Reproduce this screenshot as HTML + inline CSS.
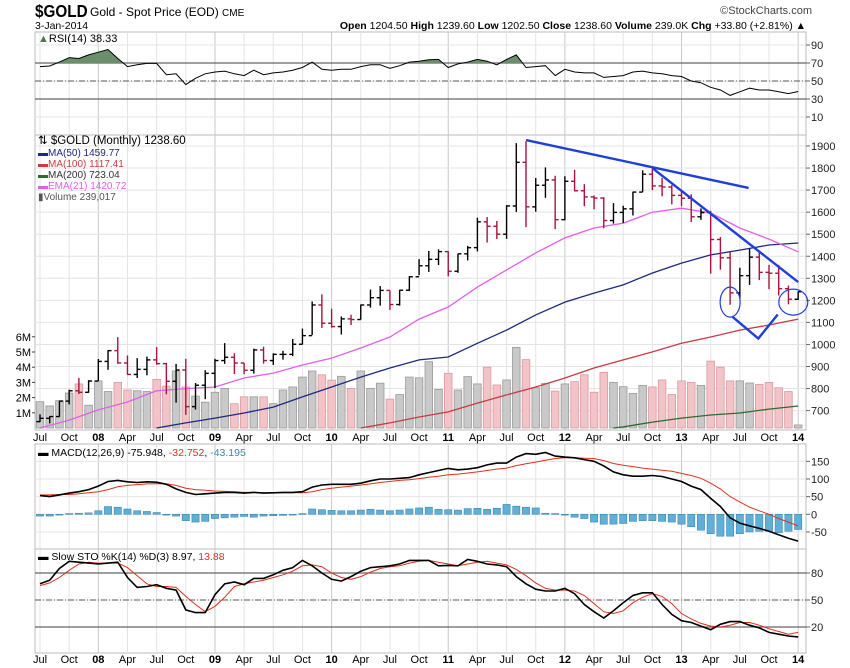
<!DOCTYPE html>
<html><head><meta charset="utf-8"><style>
html,body{margin:0;padding:0;background:#fff;}
svg{display:block;font-family:"Liberation Sans",sans-serif;}
</style></head><body>
<svg id="c" width="850" height="668" viewBox="0 0 850 668" xmlns="http://www.w3.org/2000/svg">
<g>
<text x="35" y="17" font-size="18" font-weight="bold" transform="scale(0.85,1)" transform-origin="35 17">$GOLD</text>
<text x="90" y="16" font-size="12">Gold - Spot Price (EOD) <tspan font-size="10">CME</tspan></text>
<text x="812" y="14" font-size="11" fill="#444" text-anchor="end">©StockCharts.com</text>
<text x="35" y="29" font-size="10.5">3-Jan-2014</text>
<text x="806" y="29" font-size="10.5" text-anchor="end"><tspan font-weight="bold">Open</tspan> 1204.50 <tspan font-weight="bold">High</tspan> 1239.60 <tspan font-weight="bold">Low</tspan> 1202.50 <tspan font-weight="bold">Close</tspan> 1238.60 <tspan font-weight="bold">Volume</tspan> 239.0K <tspan font-weight="bold">Chg</tspan> +33.80 (+2.81%) ▲</text>
</g>
<g id="layer"></g>
</svg>
<script>
// ---- data ----
const months = ["Jul","Aug","Sep","Oct","Nov","Dec"];
const closes = [665,673,743,790,783,834, 923,972,916,864,887,930,913,833,884,718,815,869, 927,942,916,883,975,927,955,955,1001,1040,1179,1096, 1081,1116,1113,1179,1212,1245,1181,1246,1307,1357,1386,1421, 1332,1411,1439,1556,1536,1500,1628,1826,1624,1722,1746,1566, 1740,1697,1669,1664,1562,1599,1615,1691,1772,1719,1714,1676, 1663,1579,1598,1476,1393,1234,1312,1396,1327,1323,1253,1205, 1239];
const highs = [683,675,745,795,848,838, 934,975,1033,950,938,945,988,916,912,935,825,883, 935,1006,960,916,981,990,960,971,1025,1072,1195,1227, 1162,1127,1135,1181,1249,1265,1244,1248,1310,1387,1424,1431, 1423,1411,1447,1575,1578,1560,1632,1913,1921,1755,1803,1765, 1763,1792,1727,1676,1668,1641,1629,1693,1790,1796,1755,1723, 1694,1681,1617,1606,1487,1423,1348,1433,1425,1361,1361,1267, 1240];
const lows = [648,642,672,728,775,781, 834,885,913,862,848,860,908,774,736,681,705,752, 802,912,866,865,868,913,907,931,947,1000,1043,1075, 1076,1045,1088,1113,1167,1176,1156,1176,1243,1314,1329,1360, 1309,1325,1381,1422,1462,1478,1479,1601,1532,1602,1665,1523, 1563,1694,1627,1613,1527,1548,1551,1585,1691,1700,1672,1635, 1627,1555,1565,1321,1339,1180,1208,1270,1292,1251,1222,1182, 1202];
const firstOpen = 650;
const volumes = [1.73,1.45,1.8,2.3,2.9,1.5, 3.1,2.4,3.0,2.5,2.45,2.4,3.2,2.75,3.75,2.7,2.1,1.7, 2.35,2.6,1.6,2.05,2.05,2.05,1.6,2.5,2.7,3.35,3.75,3.5, 3.15,3.4,2.6,3.75,2.6,2.95,1.9,2.2,3.35,3.3, 4.36,2.54,3.6,2.5,3.38,2.9,4.0,2.83,3.16,5.3,4.5,2.65,2.94,2.43,2.9,3.05,3.5,2.35,3.66,3.0,2.72,2.28,2.8,2.7,3.16,2.2,3.1,3.0,2.8,4.4,4.0,3.1,3.1,2.96,2.87,3.0,2.65,2.4,0.2];
// moving averages sampled quarterly: [monthIndex, value]
const ema21Q = [[0,621],[3,657],[6,703],[9,739],[12,790],[15,800],[18,807],[21,848],[24,870],[27,907],[30,938],[33,984],[36,1034],[39,1115],[42,1170],[45,1260],[48,1338],[51,1415],[54,1483],[57,1528],[60,1550],[63,1600],[66,1618],[69,1596],[72,1528],[75,1478],[78,1420]];
const ma50Q = [[12,621],[15,644],[18,666],[21,689],[24,716],[27,762],[30,807],[33,852],[36,893],[39,930],[42,943],[45,1005],[48,1065],[51,1134],[54,1192],[57,1233],[60,1270],[63,1324],[66,1369],[69,1406],[72,1428],[75,1451],[78,1460]];
const ma100Q = [[33,621],[36,644],[39,671],[42,694],[45,734],[48,771],[51,807],[54,848],[57,893],[60,930],[63,966],[66,1005],[69,1034],[72,1065],[75,1088],[78,1115]];
const ma200Q = [[59,621],[60,626],[63,648],[66,666],[69,680],[72,689],[75,707],[78,721]];
const rsi = [66,66.7,71,76,75,79,82,85,75,66,68,69.6,69.6,57,58,46,53,58,60,61,58,56,62,57,59,60,62,65,71,63,62,63,63,66,68,68,64,67,71,72,73.5,74,65,69,71,74,72,68,74,79,65,66,67,56,63,60,59,59,54,55,56,60,61,59,58,56,55,50,48,43,40,34,38,42,40,40,38,36,38.3];
const macd = [53,50,55,60,64,70,80,93,96,92,90,92,91,85,72,62,56,58,60,62,62,60,62,60,61,62,62,64,77,83,85,85,85,88,95,100,100,102,104,112,118,124,130,126,128,132,140,145,145,162,172,170,175,165,162,160,155,150,137,120,112,108,108,110,107,100,93,80,70,45,22,-10,-25,-33,-40,-48,-58,-68,-76];
const signal = [55,55,56,56,58,61,64,70,78,82,84,86,87,86,82,74,70,68,66,65,64,62,62,61,61,61,61,61,64,70,74,77,80,83,86,90,93,96,98,101,105,108,112,114,117,120,124,128,131,138,143,148,153,158,160,160,159,158,152,144,139,135,131,128,125,122,116,110,102,88,72,50,35,20,10,0,-12,-22,-33];
const hist = [-5,-5,0,2,3,4,10,22,20,15,10,8,5,0,-5,-18,-22,-20,-12,-10,-8,-6,-8,-5,-4,-3,-2,2,15,13,11,10,10,12,14,12,10,12,15,18,20,14,13,12,16,17,14,17,28,23,20,18,3,2,0,-8,-12,-22,-28,-28,-26,-20,-18,-18,-20,-22,-28,-35,-45,-55,-62,-62,-55,-50,-48,-48,-52,-48,-43];
const stoK = [68,72,85,93,92,91,90,91,92,75,64,65,67,63,61,39,36,36,56,68,70,67,74,74,78,83,86,94,88,80,73,71,76,82,86,87,88,90,94,94,94,88,88.5,88,95,93,90,89,87,76,68,62,60,60,63,57,45,37,30,38,47,55,58,58,45,34,27,25,21,17,23,26,26,22,19,14,12,10,9];
const stoD = [66,69,75,83,90,92,91,91,91,86,77,68,65,65,64,54,45,37,43,53,65,68,70,72,75,78,82,88,89,87,80,75,73,76,81,85,87,88,91,93,94,92,90,88,90,92,93,91,89,84,77,69,63,61,61,60,55,46,37,35,38,47,53,57,54,46,35,29,24,21,20,22,25,25,22,18,15,12,14];
const priceTicks = [700,800,900,1000,1100,1200,1300,1400,1500,1600,1700,1800,1900];
const volTicks = [1,2,3,4,5,6];
const rsiTicks = [10,30,50,70,90];
const macdTicks = [-50,0,50,100,150];
const stoTicks = [20,50,80];
const xLabels = ["Jul","Oct","08","Apr","Jul","Oct","09","Apr","Jul","Oct","10","Apr","Jul","Oct","11","Apr","Jul","Oct","12","Apr","Jul","Oct","13","Apr","Jul","Oct","14"];

// ---- axes ----
const L=35, R=806;
const xm = m => 40 + m*9.72;
const yP = p => 146 + (1900-p)*0.2205;
const yV = v => 428 - v*15.2;
const yR = v => 126 - v*0.9;
const yM = v => 514.3 - v*0.353;
const yS = v => 645 - v*0.9;
const panels = {rsi:[32,135], price:[135,430], macd:[444,549], sto:[549,653]};

const NS="http://www.w3.org/2000/svg";
const layer=document.getElementById('layer');
function mk(tag, attrs, parent){const e=document.createElementNS(NS,tag);for(const k in attrs)e.setAttribute(k,attrs[k]);(parent||layer).appendChild(e);return e;}

// defs clip
const defs=mk('defs',{});
for(const k in panels){const cp=mk('clipPath',{id:'clip-'+k},defs);mk('rect',{x:L,y:panels[k][0],width:R-L,height:panels[k][1]-panels[k][0]},cp);}
const cpr=mk('clipPath',{id:'clip-rsi-ob'},defs);mk('rect',{x:L,y:0,width:R-L,height:yR(70)},cpr);

// panels & grids
for(const k in panels){
  const [t,b]=panels[k];
  const g=mk('g',{});
  
  
  mk('rect',{x:L,y:t,width:R-L,height:b-t,fill:'#fff',stroke:'#bbb','stroke-width':1},g);
  for(let i=0;i<xLabels.length;i++){
    const x=xm(i*3);
    mk('line',{x1:x,x2:x,y1:t,y2:b,stroke:/\d/.test(xLabels[i])?'#c8c8c8':'#e4e4e4','stroke-width':1},g);
  }
}
function hgrid(ticks,yf,panel,fmt){
  const [t,b]=panels[panel];
  ticks.forEach(v=>{
    const y=yf(v);
    mk('line',{x1:L,x2:R,y1:y,y2:y,stroke:'#e4e4e4'});
    mk('line',{x1:R,x2:R+4,y1:y,y2:y,stroke:'#666'});
    const tx=mk('text',{x:R+5,y:y+4,'font-size':11,fill:'#222'});
    tx.textContent=fmt?fmt(v):v;
    
    
  });
}
hgrid(priceTicks,yP,'price');
hgrid(rsiTicks,yR,'rsi');
hgrid(macdTicks,yM,'macd');
hgrid(stoTicks,yS,'sto');
volTicks.forEach(v=>{const y=yV(v);mk('line',{x1:L-3,x2:L,y1:y,y2:y,stroke:'#444'});const t=mk('text',{x:L-4,y:y+4,'font-size':11,'text-anchor':'end'});t.textContent=v+'M';

});

// reference lines
[[yR(70),'#666','none'],[yR(30),'#666','none'],[yR(50),'#777','6,2,1,2'],[yS(80),'#666','none'],[yS(20),'#666','none'],[yS(50),'#777','6,2,1,2']].forEach(([y,c,d])=>mk('line',{x1:L,x2:R,y1:y,y2:y,stroke:c,'stroke-width':1.2,'stroke-dasharray':d}));

// x labels
[437,659].forEach((yy,ri)=>xLabels.forEach((s,i)=>{const t=mk('text',{x:xm(i*3),y:yy+4,'font-size':11,'text-anchor':'middle','font-weight':/\d/.test(s)?'bold':'normal'});t.textContent=s;

}));

function pathFrom(arr,yf){return arr.map((v,i)=>(i?'L':'M')+xm(i).toFixed(1)+','+yf(v).toFixed(1)).join('');}
function pathQ(arr,yf){return arr.map((p,i)=>(i?'L':'M')+xm(p[0]).toFixed(1)+','+yf(p[1]).toFixed(1)).join('');}

// RSI
const rg=mk('g',{'clip-path':'url(#clip-rsi)'});
const rsiArea=mk('path',{d:pathFrom(rsi,yR)+'L'+xm(rsi.length-1)+','+yR(70)+'L'+xm(0)+','+yR(70)+'Z',fill:'#6b8f6b',stroke:'none','clip-path':'url(#clip-rsi-ob)'},rg);


const rsiLine=mk('path',{d:pathFrom(rsi,yR),fill:'none',stroke:'#000','stroke-width':1},rg);



// volume
const pg=mk('g',{'clip-path':'url(#clip-price)'});
volumes.forEach((v,i)=>{const o=i?closes[i-1]:firstOpen;const up=closes[i]>=o;
  const r=mk('rect',{x:xm(i)-3.8,y:yV(v),width:7.6,height:yV(0)-yV(v),fill:up?'#c9c9c9':'#f2c4c8',stroke:up?'#9a9a9a':'#d99aa0','stroke-width':0.8},pg);
  
  
});
// MAs
[[ma200Q,'#2f6b2f','ma200-line'],[ma100Q,'#c83a44','ma100-line'],[ma50Q,'#1c2a80','ma50-line'],[ema21Q,'#e060e8','ema21-line']].forEach(([a,c,n])=>{
  const p=mk('path',{d:pathQ(a,yP),fill:'none',stroke:c,'stroke-width':1.3},pg);
  
  
});
// OHLC bars
closes.forEach((c,i)=>{const o=i?closes[i-1]:firstOpen;const col=c>=o?'#000':'#a8143a';const x=xm(i);
  const g=mk('g',{stroke:col,'stroke-width':1.4},pg);
  
  
  mk('line',{x1:x,x2:x,y1:yP(highs[i]),y2:yP(lows[i])},g);
  mk('line',{x1:x-3.5,x2:x,y1:yP(o),y2:yP(o)},g);
  mk('line',{x1:x,x2:x+3.5,y1:yP(c),y2:yP(c)},g);
});
// annotations
const an=mk('g',{stroke:'#1f3fd8','stroke-width':2.4,fill:'none'});


mk('line',{x1:xm(50),y1:yP(1927),x2:xm(72.9),y2:yP(1710)},an);
mk('line',{x1:xm(63),y1:yP(1800),x2:xm(78),y2:yP(1283)},an);
mk('polyline',{points:[xm(71.2),yP(1127),xm(73.9),yP(1027),xm(75.9),yP(1136)].join(' ').replace(/(\d) (\d)/g,'$1 $2')},an).setAttribute('points',`${xm(71.2)},${yP(1127)} ${xm(73.9)},${yP(1027)} ${xm(75.9)},${yP(1136)}`);
mk('ellipse',{cx:xm(71),cy:yP(1192),rx:10,ry:15,'stroke-width':1.2},an);
mk('ellipse',{cx:xm(77.5),cy:yP(1192),rx:14.5,ry:13,'stroke-width':1.2},an);

// MACD
const mg=mk('g',{'clip-path':'url(#clip-macd)'});
hist.forEach((v,i)=>{const y0=yM(0),y1=yM(v);
  const r=mk('rect',{x:xm(i)-3.6,y:Math.min(y0,y1),width:7.2,height:Math.max(0.8,Math.abs(y1-y0)),fill:'#5fb0d8',stroke:'#3f87b0','stroke-width':0.6},mg);
  
  
});
const sgl=mk('path',{d:pathFrom(signal,yM),fill:'none',stroke:'#e0301e','stroke-width':1},mg);


const ml=mk('path',{d:pathFrom(macd,yM),fill:'none',stroke:'#000','stroke-width':1.6},mg);



// STO
const sg=mk('g',{'clip-path':'url(#clip-sto)'});
const dl=mk('path',{d:pathFrom(stoD,yS),fill:'none',stroke:'#e0301e','stroke-width':1},sg);


const kl=mk('path',{d:pathFrom(stoK,yS),fill:'none',stroke:'#000','stroke-width':1.6},sg);


</script>
<svg width="0" height="0"></svg>
<script>
// legends (static text overlay)
(function(){
const NS="http://www.w3.org/2000/svg";const svg=document.getElementById('c');
function t(x,y,html,name,fs){const e=document.createElementNS(NS,'text');e.setAttribute('x',x);e.setAttribute('y',y);e.setAttribute('font-size',fs||11);e.innerHTML=html;


svg.appendChild(e);}
t(38,42,'<tspan fill="#4a7a4a">▲</tspan>RSI(14) 38.33','rsi-legend',11);
t(38,144,'⇅ $GOLD (Monthly) 1238.60','price-legend',11.5);
t(38,156,'<tspan fill="#1c2a80">▬MA(50) 1459.77</tspan>','legend-ma50',10);
t(38,167,'<tspan fill="#c83a44">▬MA(100) 1117.41</tspan>','legend-ma100',10);
t(38,178,'<tspan fill="#2f6b2f">▬</tspan><tspan fill="#333">MA(200) 723.04</tspan>','legend-ma200',10);
t(38,189,'<tspan fill="#e060e8">▬EMA(21) 1420.72</tspan>','legend-ema21',10);
t(38,200,'<tspan fill="#555">▮Volume 239,017</tspan>','legend-volume',10);
t(38,456,'▬ MACD(12,26,9) -75.948, <tspan fill="#e0301e">-32.752</tspan>, <tspan fill="#3f87b0">-43.195</tspan>','macd-legend',10.5);
t(38,560,'▬ Slow STO %K(14) %D(3) 8.97, <tspan fill="#e0301e">13.88</tspan>','sto-legend',10.5);
})();
</script>
</body></html>
